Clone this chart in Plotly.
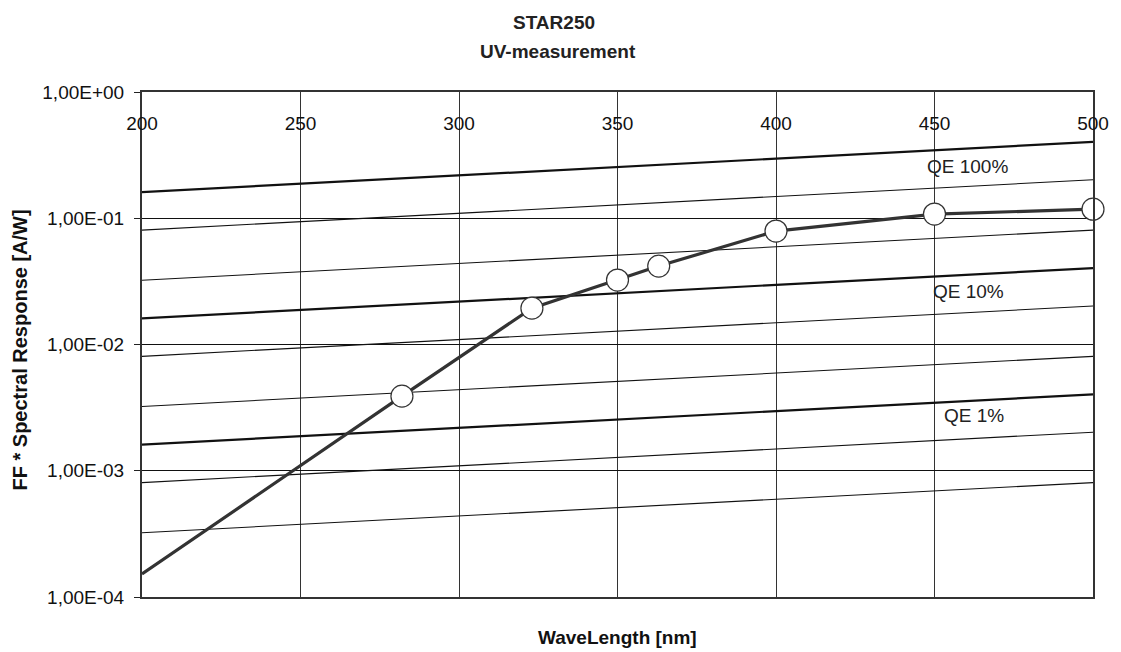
import math
import plotly.graph_objects as go

# ---- data ----
wl_ends = [200, 500]
qe_labels = ["100%", "50%", "20%", "10%", "5%", "2%", "1%", "0.5%", "0.2%"]
qe_at_200 = [0.161, 0.0806, 0.0323, 0.0161, 0.00806, 0.00323, 0.00161, 0.000806, 0.000323]
qe_at_500 = [0.403, 0.202, 0.0806, 0.0403, 0.0202, 0.00806, 0.00403, 0.00202, 0.000806]
qe_thick = [True, False, False, True, False, False, True, False, False]

meas_wl = [200, 282, 323, 350, 363, 400, 450, 500]
meas_resp = [1.52e-4, 0.0039, 0.0194, 0.0324, 0.0418, 0.0792, 0.108, 0.118]
marker_wl = [282, 323, 350, 363, 400, 450, 500]
marker_resp = [0.0039, 0.0194, 0.0324, 0.0418, 0.0792, 0.108, 0.118]

x_ticks = [200, 250, 300, 350, 400, 450, 500]
y_ticks = [1e-4, 1e-3, 1e-2, 1e-1, 1e0]
y_ticktext = ["1,00E-04", "1,00E-03", "1,00E-02", "1,00E-01", "1,00E+00"]

qe_ann_text = ["QE 100%", "QE 10%", "QE 1%"]
qe_ann_x = [460.4, 460.7, 462.6]
qe_ann_y = [0.259, 0.0261, 0.00272]

FONT = "Liberation Sans, Arial, sans-serif"
DARK = "#333333"

W, H = 1121, 652
PL, PR, PT, PB = 142, 1097, 92, 597  # plot area in page pixels


def px(X):
    return (X - PL) / (PR - PL)


def py(Y):
    return (PB - Y) / (PB - PT)


fig = go.Figure()

for lab, a, b, thick in zip(qe_labels, qe_at_200, qe_at_500, qe_thick):
    fig.add_trace(go.Scatter(
        x=wl_ends, y=[a, b], mode="lines", name="QE " + lab,
        line=dict(color="#111111", width=2.2 if thick else 1.1),
        hoverinfo="skip", showlegend=False))

fig.add_trace(go.Scatter(
    x=meas_wl, y=meas_resp, mode="lines", name="measurement",
    line=dict(color=DARK, width=3.2), showlegend=False))
fig.add_trace(go.Scatter(
    x=marker_wl, y=marker_resp, mode="markers", name="points",
    marker=dict(size=22, color="white", line=dict(color=DARK, width=1.2)),
    showlegend=False, cliponaxis=False))

annotations = []
for t, ax, ay in zip(qe_ann_text, qe_ann_x, qe_ann_y):
    annotations.append(dict(x=ax, y=math.log10(ay), xref="x", yref="y",
                            text=t, showarrow=False, xanchor="center", yanchor="middle",
                            font=dict(family=FONT, size=19, color="#222222")))

annotations += [
    dict(text="<b>STAR250</b>", x=px(556), y=py(22), xref="paper", yref="paper",
         xanchor="center", yanchor="middle", showarrow=False,
         font=dict(family=FONT, size=19, color="#222222")),
    dict(text="<b>UV-measurement</b>", x=px(560), y=py(52), xref="paper", yref="paper",
         xanchor="center", yanchor="middle", showarrow=False,
         font=dict(family=FONT, size=19, color="#222222")),
    dict(text="<b>WaveLength [nm]</b>", x=px(620), y=py(637), xref="paper", yref="paper",
         xanchor="center", yanchor="middle", showarrow=False,
         font=dict(family=FONT, size=19, color="#111111")),
    dict(text="<b>FF * Spectral Response [A/W]</b>", x=px(19), y=py(350), textangle=-90,
         xref="paper", yref="paper", xanchor="center", yanchor="middle", showarrow=False,
         font=dict(family=FONT, size=20, color="#111111")),
]

fig.update_layout(
    width=W, height=H,
    margin=dict(l=PL, r=W - PR, t=PT, b=H - PB, pad=0),
    paper_bgcolor="white", plot_bgcolor="white",
    font=dict(family=FONT, size=19, color="#222222"),
    showlegend=False,
    annotations=annotations,
    xaxis=dict(
        range=[200, 500], side="top", tickmode="array", tickvals=x_ticks,
        ticktext=[str(v) for v in x_ticks], ticklabelposition="inside",
        ticklabeloverflow="allow", ticklabelstandoff=26,
        showgrid=True, gridcolor="#333333", gridwidth=1,
        showline=True, linecolor=DARK, linewidth=2, mirror=True,
        ticks="", zeroline=False, tickfont=dict(size=19, color="#111111"),
    ),
    yaxis=dict(
        type="log", range=[-4, 0.0001], tickmode="array", tickvals=y_ticks, ticktext=y_ticktext,
        ticklabeloverflow="allow",
        showgrid=True, gridcolor="#111111", gridwidth=1,
        showline=True, linecolor=DARK, linewidth=2, mirror=True,
        ticks="outside", ticklen=6, tickcolor="#222222", ticklabelstandoff=6,
        zeroline=False, tickfont=dict(size=19, color="#111111"),
    ),
)

fig.write_html(
    "out.html",
    config={"displayModeBar": False},
    post_script=("document.body.style.margin='0';"
                 "document.body.style.overflow='hidden';"
                 "document.documentElement.style.overflow='hidden';"),
)
